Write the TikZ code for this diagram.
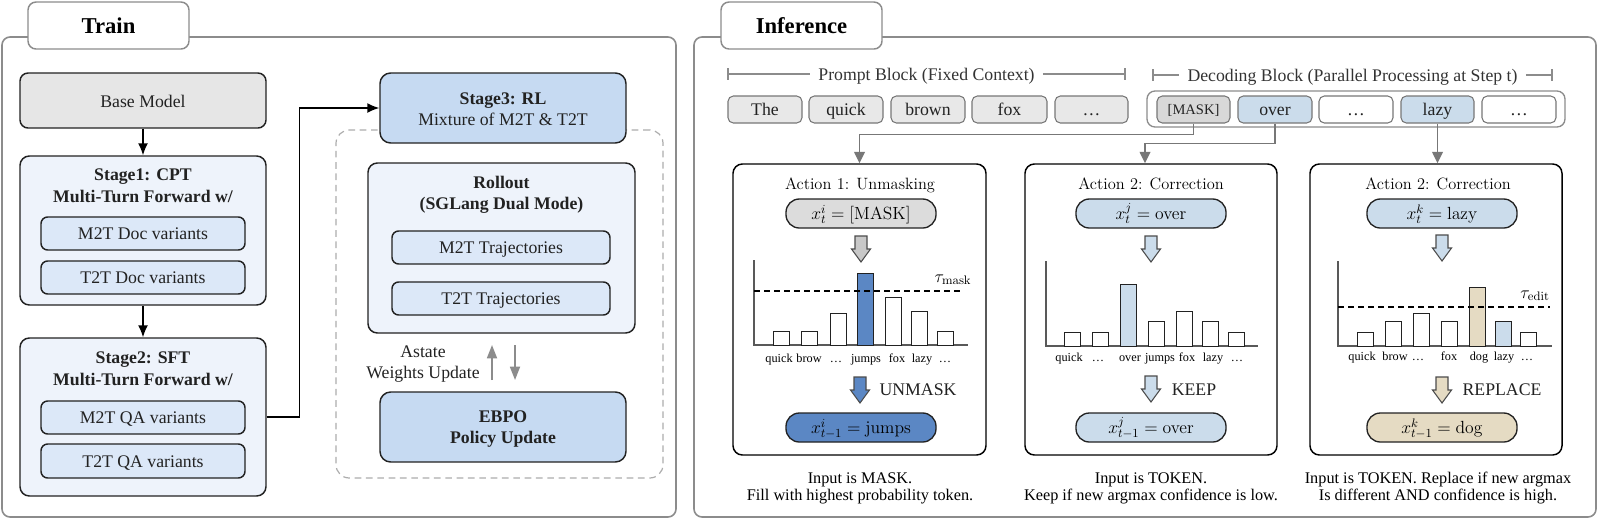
\RequirePackage{fix-cm}
\documentclass[tikz,border=0pt]{standalone}
\usepackage[no-math]{fontspec}
\setmainfont{Liberation Serif}
\usetikzlibrary{fit,arrows.meta}
\definecolor{frameg}{HTML}{8C8C8C}
\definecolor{boxline}{HTML}{222222}
\definecolor{basegray}{HTML}{E6E6E6}
\definecolor{stagebg}{HTML}{EEF3FB}
\definecolor{innerbl}{HTML}{DCE8F8}
\definecolor{midbl}{HTML}{C6DAF2}
\definecolor{tokgray}{HTML}{E8E8E8}
\definecolor{tokline}{HTML}{777777}
\definecolor{maskgray}{HTML}{D8D8D8}
\definecolor{tokbl}{HTML}{CBDCEB}
\definecolor{deepbl}{HTML}{5B87C4}
\definecolor{tanc}{HTML}{E5DBC3}
\definecolor{pillgray}{HTML}{DCDCDC}
\definecolor{fatgray}{HTML}{C8C8C8}
\definecolor{conng}{HTML}{777777}
\definecolor{textg}{HTML}{333333}
\newcommand\fmain{\fontsize{13.3pt}{16.5pt}\selectfont}
\newcommand\ftab{\fontsize{17pt}{19pt}\selectfont\bfseries}
\newcommand\fmathsz{\fontsize{13.2pt}{15pt}\selectfont}
\newcommand\flab{\fontsize{9.2pt}{10pt}\selectfont}
\newcommand\fcap{\fontsize{12.2pt}{12.75pt}\selectfont}
\newcommand\fact{\fontfamily{lmr}\fontsize{12.3pt}{14pt}\selectfont}
\newcommand\fmasktok{\fontsize{10.9pt}{12pt}\selectfont}
\begin{document}
\begin{tikzpicture}[x=0.75pt,y=-0.75pt,
  panel/.style={draw=frameg, line width=1.2pt, rounded corners=6pt, inner sep=0pt},
  tabbox/.style={draw=frameg, line width=1.1pt, fill=white, rounded corners=6pt, inner sep=0pt},
  bx/.style={draw=boxline, line width=1.1pt, rounded corners=6pt, inner sep=0pt},
  basebox/.style={bx, fill=basegray},
  stagebox/.style={bx, fill=stagebg, rounded corners=7pt},
  subbox/.style={bx, fill=innerbl, rounded corners=5pt},
  rlbox/.style={bx, fill=midbl, rounded corners=8pt},
  dashbox/.style={draw=gray!65, line width=0.9pt, rounded corners=10pt, dash pattern=on 5pt off 3.5pt, inner sep=0pt},
  txt/.style={inner sep=0pt, anchor=base, font=\fmain, text=boxline},
  txtb/.style={txt, font=\fmain\bfseries},
  tabtxt/.style={inner sep=0pt, anchor=base, font=\ftab},
  tok/.style={draw=tokline, line width=0.8pt, rounded corners=4pt, inner sep=0pt},
  act/.style={draw=black, line width=1.1pt, rounded corners=7pt, fill=white, inner sep=0pt},
  pill/.style={draw=boxline, line width=1pt, rounded corners=10pt, inner sep=0pt},
  mtxt/.style={inner sep=0pt, anchor=base, font=\fmathsz},
  barr/.style={draw=boxline, line width=0.7pt},
  axis/.style={draw=black!65, line width=0.8pt},
  thr/.style={draw=black, line width=1pt, dash pattern=on 4.5pt off 3pt},
  lab/.style={font=\flab, inner sep=0pt, anchor=base},
  capt/.style={font=\fcap, inner sep=0pt, anchor=base},
  acttitle/.style={font=\fact, inner sep=0pt, anchor=base},
  brtext/.style={font=\fmain, text=textg, inner xsep=6pt, inner ysep=0pt, anchor=base},
  bracket/.style={draw=frameg, line width=0.9pt},
  blackarrow/.style={-{Latex[length=9pt,width=7.5pt]}, line width=1.1pt, draw=black},
  grayarrow/.style={-{Triangle[length=10pt,width=7.5pt]}, line width=1.3pt, draw=frameg},
  grayconn/.style={-{Triangle[length=8.5pt,width=8pt]}, line width=1.1pt, draw=conng},
  fatarrow/.pic={\path[pic actions] (-6,0) -- (6,0) -- (6,13) -- (9.5,13) -- (0,26) -- (-9.5,13) -- (-6,13) -- cycle;},
  fatstyle/.style={draw=black!70, line width=0.8pt}
]
\useasboundingbox (0,0) rectangle (1599,519);

% ================= TRAIN =================
\node[panel, fit={(2,37) (676,517)}] (trainframe) {};
\node[tabbox, fit={(28,2) (189,49)}] (traintab) {};
\node[tabtxt] at (108.5,33) (traintabt) {Train};

\node[basebox, fit={(20,73) (266,128)}] (base) {};
\node[txt] at (143,107) (baset) {Base Model};

\node[stagebox, fit={(20,156) (266,305)}] (st1) {};
\node[txtb] at (143,180) (st1a) {Stage1: CPT};
\node[txtb] at (143,202) (st1b) {Multi-Turn Forward w/};
\node[subbox, fit={(41,217) (245,250)}] (m2tdoc) {};
\node[txt] at (143,239.5) (m2tdoct) {M2T Doc variants};
\node[subbox, fit={(41,261) (245,294)}] (t2tdoc) {};
\node[txt] at (143,283.5) (t2tdoct) {T2T Doc variants};

\node[stagebox, fit={(20,338) (266,496)}] (st2) {};
\node[txtb] at (143,363) (st2a) {Stage2: SFT};
\node[txtb] at (143,385) (st2b) {Multi-Turn Forward w/};
\node[subbox, fit={(41,401) (245,434)}] (m2tqa) {};
\node[txt] at (143,423.5) (m2tqat) {M2T QA variants};
\node[subbox, fit={(41,444) (245,478)}] (t2tqa) {};
\node[txt] at (143,467) (t2tqat) {T2T QA variants};

\node[dashbox, fit={(336,130) (663,478)}] (rlgroup) {};
\node[rlbox, fit={(380,73) (626,143)}] (st3) {};
\node[txtb] at (503,104) (st3a) {Stage3: RL};
\node[txt] at (503,125) (st3b) {Mixture of M2T \& T2T};

\node[stagebox, fit={(368,163) (635,333)}] (roll) {};
\node[txtb] at (501.5,188) (rolla) {Rollout};
\node[txtb] at (501.5,209) (rollb) {(SGLang Dual Mode)};
\node[subbox, fit={(392,231) (610,264)}] (m2ttr) {};
\node[txt] at (501,253.5) (m2ttrt) {M2T Trajectories};
\node[subbox, fit={(392,282) (610,315)}] (t2ttr) {};
\node[txt] at (501,304.5) (t2ttrt) {T2T Trajectories};

\node[rlbox, fit={(380,392) (626,462)}] (ebpo) {};
\node[txtb] at (503,422.5) (ebpoa) {EBPO};
\node[txtb] at (503,443.5) (ebpob) {Policy Update};

\node[txt] at (423,357) (astatea) {Astate};
\node[txt] at (423,378) (astateb) {Weights Update};
\coordinate (upA) at (492,380);
\coordinate (upB) at (492,345);
\coordinate (dnA) at (515,345);
\coordinate (dnB) at (515,380);
\draw[grayarrow] (upA) -- (upB);
\draw[grayarrow] (dnA) -- (dnB);

\draw[blackarrow] (base) -- (st1);
\draw[blackarrow] (st1) -- (st2);
\draw[blackarrow] (st2.east) -- ++(33,0) |- (st3.west);

% ================= INFERENCE =================
\node[panel, fit={(694,37) (1596,517)}] (infframe) {};
\node[tabbox, fit={(721,2) (882,49)}] (inftab) {};
\node[tabtxt] at (801.5,33) (inftabt) {Inference};

% brackets
\node[brtext] at (926.5,80) (ptext) {Prompt Block (Fixed Context)};
\coordinate (pL) at (728,74);
\coordinate (pR) at (1125,74);
\draw[bracket] (pL) -- (pL -| ptext.west) (pR -| ptext.east) -- (pR);
\draw[bracket] ([yshift=4.2pt]pL) -- ([yshift=-4.2pt]pL);
\draw[bracket] ([yshift=4.2pt]pR) -- ([yshift=-4.2pt]pR);

\node[brtext] at (1352.5,81) (dtext) {Decoding Block (Parallel Processing at Step t)};
\coordinate (dL) at (1153,75);
\coordinate (dR) at (1552,75);
\draw[bracket] (dL) -- (dL -| dtext.west) (dR -| dtext.east) -- (dR);
\draw[bracket] ([yshift=4.2pt]dL) -- ([yshift=-4.2pt]dL);
\draw[bracket] ([yshift=4.2pt]dR) -- ([yshift=-4.2pt]dR);

% prompt tokens
\node[tok, fill=tokgray, fit={(728,96) (802,123)}] (pt1) {};
\node[tok, fill=tokgray, fit={(809,96) (883,123)}] (pt2) {};
\node[tok, fill=tokgray, fit={(891,96) (965,123)}] (pt3) {};
\node[tok, fill=tokgray, fit={(972,96) (1047,123)}] (pt4) {};
\node[tok, fill=tokgray, fit={(1055,96) (1128,123)}] (pt5) {};
\node[txt] at (765,115.5) (pt1t) {The};
\node[txt] at (846,115.5) (pt2t) {quick};
\node[txt] at (928,115.5) (pt3t) {brown};
\node[txt] at (1009.5,115.5) (pt4t) {fox};
\node[txt] at (1091.5,115.5) (pt5t) {…};

% decoding tokens
\node[draw=frameg, line width=1pt, rounded corners=6pt, fill=white, inner sep=0pt, fit={(1147,91) (1565,127)}] (decbox) {};
\node[tok, fill=maskgray, fit={(1157,96) (1230,123)}] (dmask) {};
\node[tok, fill=tokbl, fit={(1238,96) (1312,123)}] (dover) {};
\node[tok, fill=white, fit={(1319,96) (1393,123)}] (ddots1) {};
\node[tok, fill=tokbl, fit={(1401,96) (1474,123)}] (dlazy) {};
\node[tok, fill=white, fit={(1482,96) (1556,123)}] (ddots2) {};
\node[txt, font=\fmasktok] at (1193.5,114.5) (dmaskt) {[MASK]};
\node[txt] at (1275,115.5) (dovert) {over};
\node[txt] at (1356,115.5) (ddots1t) {…};
\node[txt] at (1437.5,115.5) (dlazyt) {lazy};
\node[txt] at (1519,115.5) (ddots2t) {…};

% action boxes
\node[act, fit={(733,164) (986,455)}] (a1) {};
\node[act, fit={(1025,164) (1277,455)}] (a2) {};
\node[act, fit={(1310,164) (1562,455)}] (a3) {};

% connectors
\draw[grayconn] (dmask.south) -- ++(0,11) -| (a1.north);
\draw[grayconn] (dover.south) -- ++(0,20) -| ([xshift=-4.5pt]a2.north);
\draw[grayconn] (dlazy.south) -- (dlazy.south |- a3.north);

% ---------- Action 1 ----------
\node[acttitle] at (860,189.5) (a1t) {Action 1: Unmasking};
\node[pill, fill=pillgray, fit={(786,199) (936,228)}] (a1in) {};
\node[mtxt] at (861,219.5) (a1int) {$x_t^i = \mathrm{[MASK]}$};
\pic[fatstyle, fill=fatgray] at (861,236) {fatarrow};
\draw[axis] (754,260) -- (754,345) -- (968,345);
\draw[barr, fill=white] (773,345) rectangle (789,331);
\draw[barr, fill=white] (801,345) rectangle (817,331);
\draw[barr, fill=white] (830,345) rectangle (846,313);
\draw[barr, fill=deepbl] (857,345) rectangle (873,273);
\draw[barr, fill=white] (885,345) rectangle (901,297);
\draw[barr, fill=white] (911,345) rectangle (927,311);
\draw[barr, fill=white] (937,345) rectangle (953,331);
\draw[thr] (754,291) -- (963,291);
\node[mtxt] at (953,282) (a1tau) {$\tau_{\mathrm{mask}}$};
\node[lab] at (779,362) (a1l1) {quick};
\node[lab] at (809,362) (a1l2) {brow};
\node[lab] at (836,362) (a1l3) {…};
\node[lab] at (866,362) (a1l4) {jumps};
\node[lab] at (897,362) (a1l5) {fox};
\node[lab] at (922,362) (a1l6) {lazy};
\node[lab] at (945,362) (a1l7) {…};
\pic[fatstyle, fill=deepbl] at (860,377) {fatarrow};
\node[txt] at (918,395) (a1d) {UNMASK};
\node[pill, fill=deepbl, fit={(786,413) (936,442)}] (a1out) {};
\node[mtxt] at (861,433.5) (a1outt) {$x_{t-1}^i = \mathrm{jumps}$};
\node[capt] at (860,483) (a1c1) {Input is MASK.};
\node[capt] at (860,500) (a1c2) {Fill with highest probability token.};

% ---------- Action 2 ----------
\node[acttitle] at (1151,189.5) (a2t) {Action 2: Correction};
\node[pill, fill=tokbl, fit={(1076,199) (1226,228)}] (a2in) {};
\node[mtxt] at (1151,219.5) (a2int) {$x_t^j = \mathrm{over}$};
\pic[fatstyle, fill=tokbl] at (1151,236) {fatarrow};
\draw[axis] (1046,261) -- (1046,346) -- (1258,346);
\draw[barr, fill=white] (1064,346) rectangle (1080,332);
\draw[barr, fill=white] (1092,346) rectangle (1108,332);
\draw[barr, fill=tokbl] (1120,346) rectangle (1136,284);
\draw[barr, fill=white] (1148,346) rectangle (1164,321);
\draw[barr, fill=white] (1176,346) rectangle (1192,311);
\draw[barr, fill=white] (1202,346) rectangle (1218,321);
\draw[barr, fill=white] (1228,346) rectangle (1244,332);
\node[lab] at (1069,361) (a2l1) {quick};
\node[lab] at (1098,361) (a2l2) {…};
\node[lab] at (1130,361) (a2l3) {over};
\node[lab] at (1160,361) (a2l4) {jumps};
\node[lab] at (1187,361) (a2l5) {fox};
\node[lab] at (1213,361) (a2l6) {lazy};
\node[lab] at (1237,361) (a2l7) {…};
\pic[fatstyle, fill=tokbl] at (1151,376) {fatarrow};
\node[txt] at (1194,395) (a2d) {KEEP};
\node[pill, fill=tokbl, fit={(1076,413) (1226,442)}] (a2out) {};
\node[mtxt] at (1151,433.5) (a2outt) {$x_{t-1}^j = \mathrm{over}$};
\node[capt] at (1151,483) (a2c1) {Input is TOKEN.};
\node[capt] at (1151,500) (a2c2) {Keep if new argmax confidence is low.};

% ---------- Action 3 ----------
\node[acttitle] at (1438,189.5) (a3t) {Action 2: Correction};
\node[pill, fill=tokbl, fit={(1367,199) (1517,228)}] (a3in) {};
\node[mtxt] at (1442,219.5) (a3int) {$x_t^k = \mathrm{lazy}$};
\pic[fatstyle, fill=tokbl] at (1442,235) {fatarrow};
\draw[axis] (1338,261) -- (1338,346) -- (1552,346);
\draw[barr, fill=white] (1357,346) rectangle (1373,332);
\draw[barr, fill=white] (1385,346) rectangle (1401,321);
\draw[barr, fill=white] (1413,346) rectangle (1429,313);
\draw[barr, fill=white] (1441,346) rectangle (1457,321);
\draw[barr, fill=tanc] (1469,346) rectangle (1485,287);
\draw[barr, fill=tokbl] (1495,346) rectangle (1511,321);
\draw[barr, fill=white] (1520,346) rectangle (1536,332);
\draw[thr] (1338,307) -- (1550,307);
\node[mtxt] at (1535,298) (a3tau) {$\tau_{\mathrm{edit}}$};
\node[lab] at (1362,360) (a3l1) {quick};
\node[lab] at (1395,360) (a3l2) {brow};
\node[lab] at (1418,360) (a3l3) {…};
\node[lab] at (1449,360) (a3l4) {fox};
\node[lab] at (1479,360) (a3l5) {dog};
\node[lab] at (1504,360) (a3l6) {lazy};
\node[lab] at (1527,360) (a3l7) {…};
\pic[fatstyle, fill=tanc] at (1442,377) {fatarrow};
\node[txt] at (1502,395) (a3d) {REPLACE};
\node[pill, fill=tanc, fit={(1367,413) (1517,442)}] (a3out) {};
\node[mtxt] at (1442,433.5) (a3outt) {$x_{t-1}^k = \mathrm{dog}$};
\node[capt] at (1438,483) (a3c1) {Input is TOKEN. Replace if new argmax};
\node[capt] at (1438,500) (a3c2) {Is different AND confidence is high.};
\end{tikzpicture}
\end{document}
